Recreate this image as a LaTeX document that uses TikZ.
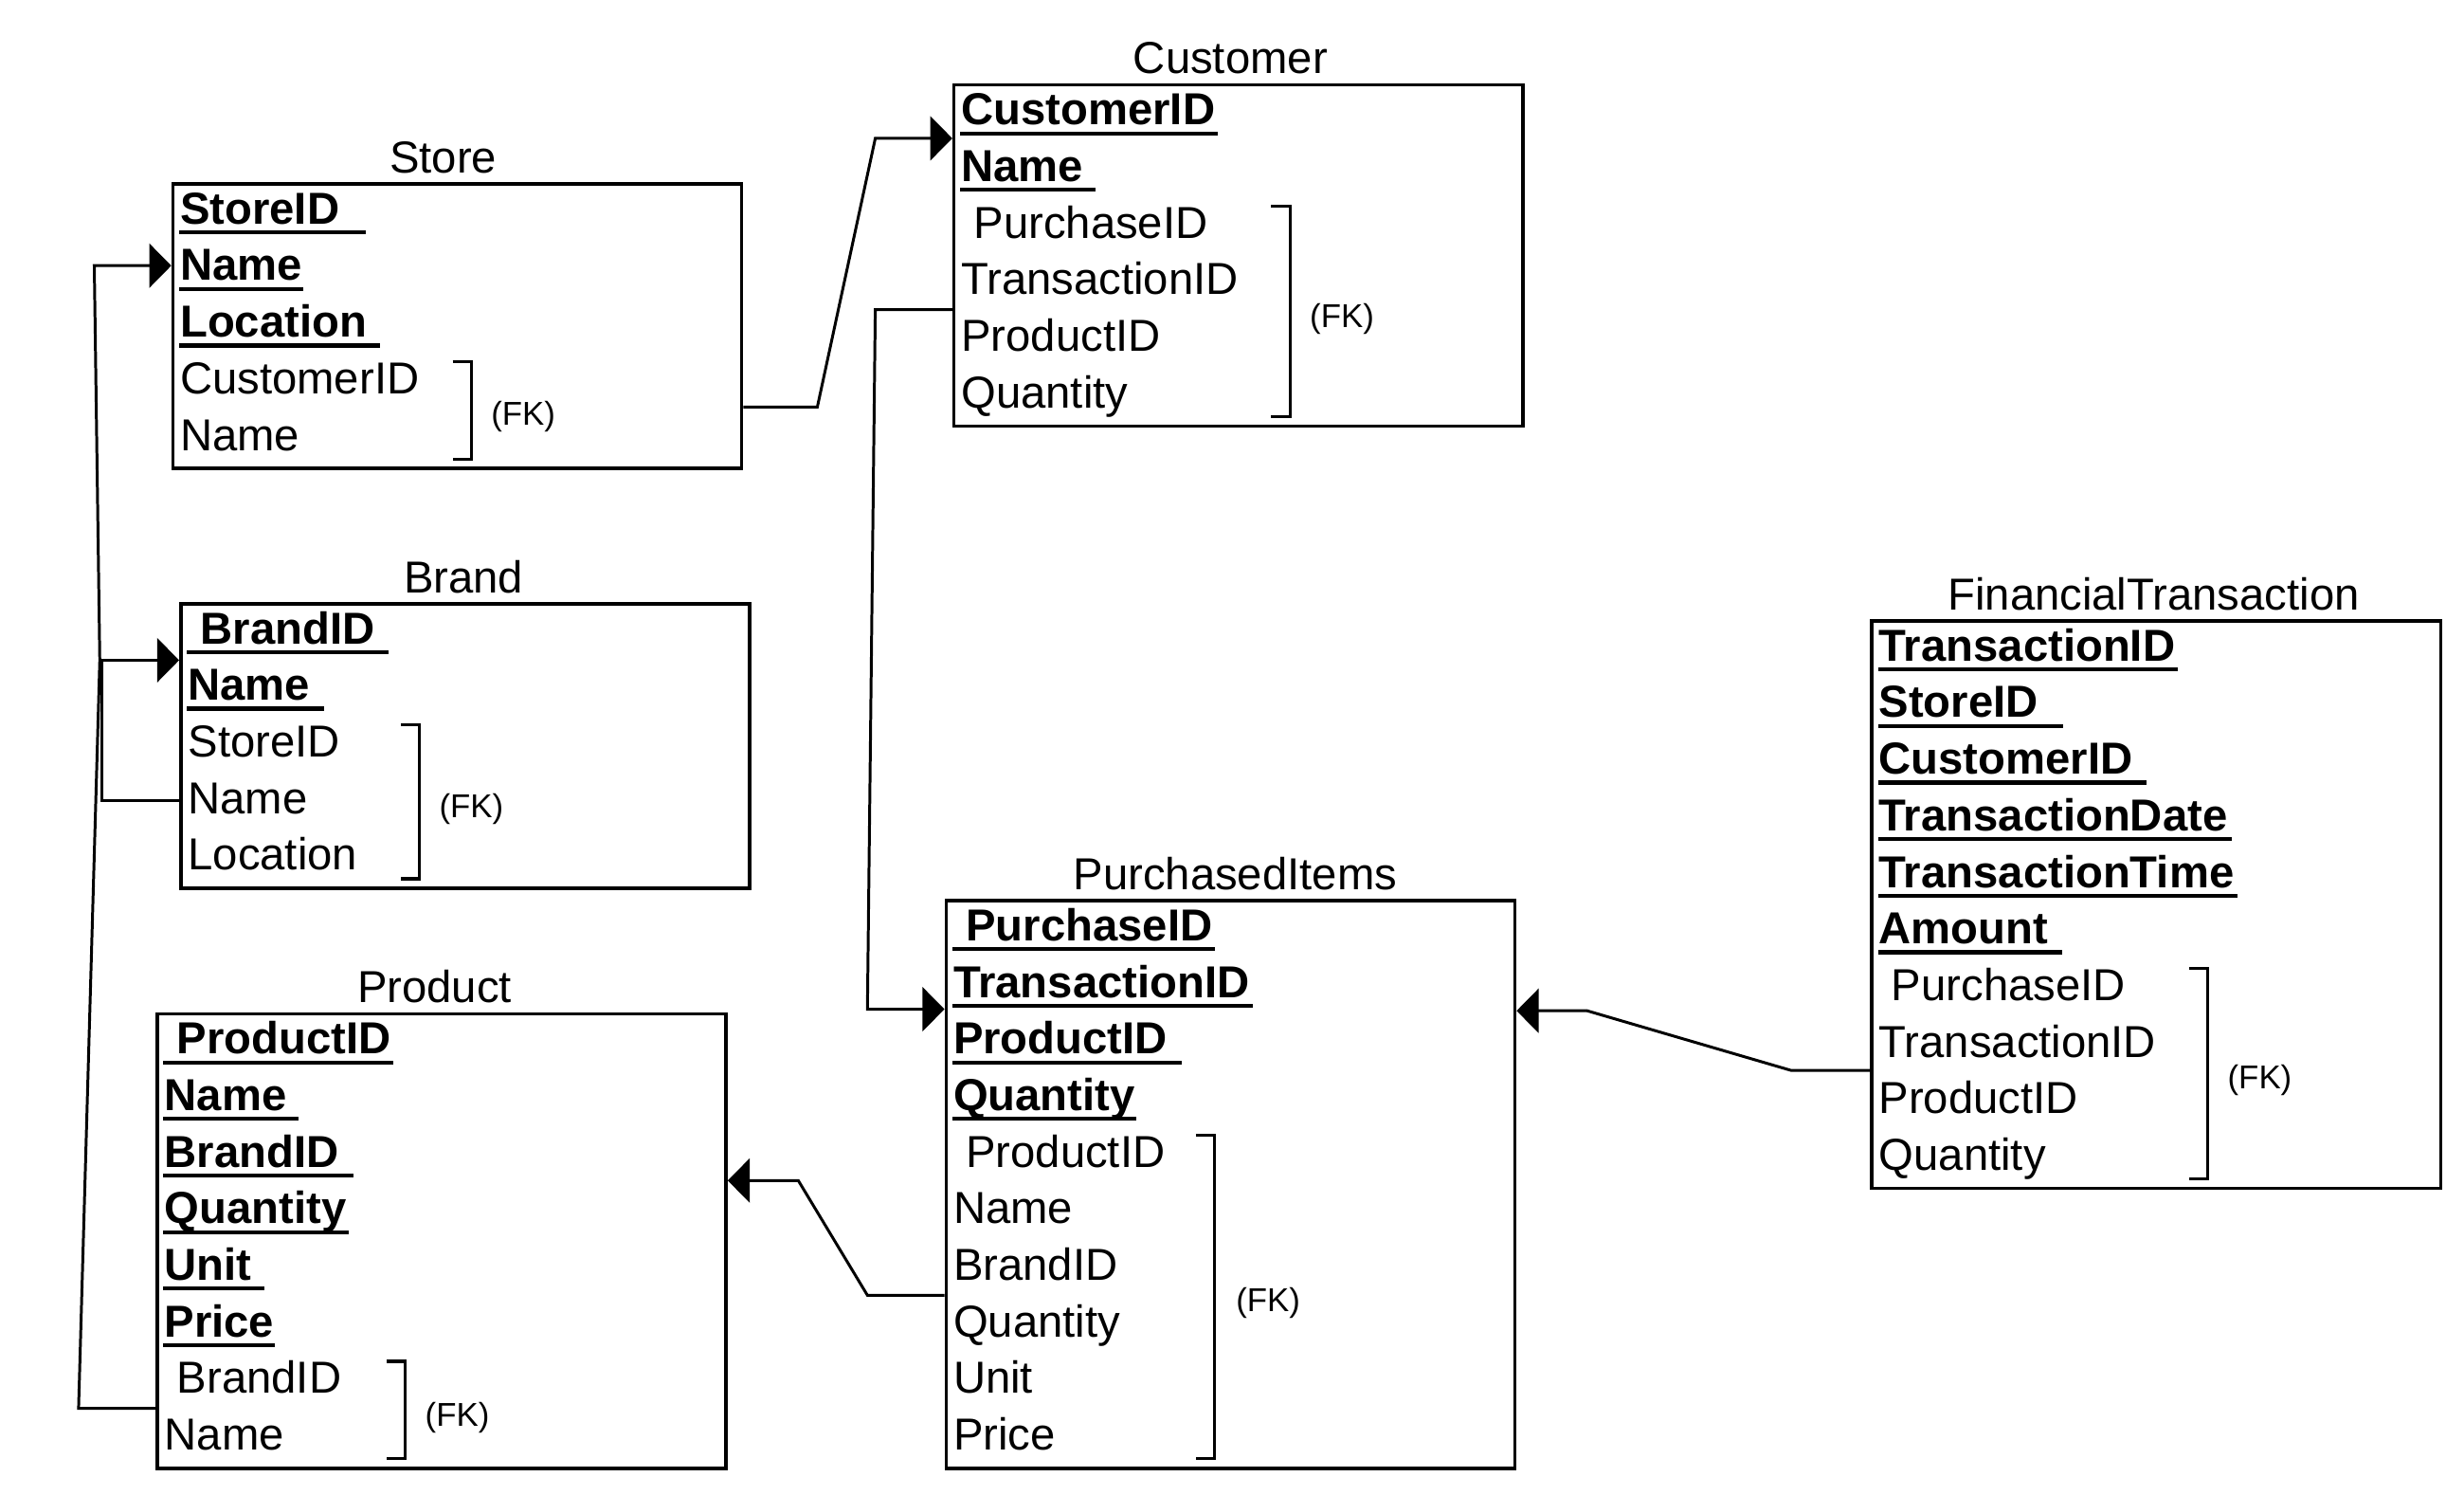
\documentclass[tikz,border=0pt]{standalone}
\usepackage{fontspec}
\setmainfont{Liberation Sans}
\usetikzlibrary{arrows.meta,calc}
\tikzset{
 box/.style={draw, line width=2.1pt, rectangle, minimum width=362pt, inner sep=0pt, anchor=north west},
 ttl/.style={anchor=base, inner sep=0pt, font=\fontsize{28.5}{34}\selectfont},
 fld/.style={anchor=base west, inner sep=0pt, font=\fontsize{28.5}{34}\selectfont},
 key/.style={anchor=base west, inner sep=0pt, font=\fontsize{28.5}{34}\selectfont\bfseries},
 uline/.style={line width=2.5pt},
 brk/.style={line width=1.9pt},
 fk/.style={anchor=center, inner sep=0pt, font=\fontsize{21}{25}\selectfont},
 conn/.style={line width=1.8pt, -{Triangle[length=14pt,width=28pt]}},
}
% name, box left, baseline, text, underline end, indent
\newcommand\keyrow[6]{\node[key] (#1) at ({#2+5.5+#6},{#3+0.5}) {#4};
 \draw[uline] ({#2+5},{#3+5.8}) -- (#5,{#3+5.8});}
% name, box left, baseline, text, indent
\newcommand\fldrow[5]{\node[fld] (#1) at ({#2+5.5+#5},{#3+0.5}) {#4};}
% name, x, top, bottom, label x, label y
\newcommand\fkbr[6]{\draw[brk] ({#2-12},#3) -- (#2,#3) -- (#2,#4) -- ({#2-12},#4);
 \node[fk] (#1) at (#5,{#6+1}) {(FK)};}
\begin{document}
\begin{tikzpicture}[x=1pt,y=-1pt]
\useasboundingbox (0,0) rectangle (1568,950.5);

% ---------- Store ----------
\node[box, minimum height=181pt] (store) at (109,116) {};
\node[ttl] (storeT) at (282,110) {Store};
\keyrow{s1}{109}{142}{StoreID}{233}{0}
\keyrow{s2}{109}{178}{Name}{193}{0}
\keyrow{s3}{109}{214}{Location}{242}{0}
\fldrow{s4}{109}{250}{CustomerID}{0}
\fldrow{s5}{109}{286}{Name}{0}
\fkbr{sfk}{300}{230}{292}{333}{264}

% ---------- Customer ----------
\node[box, minimum height=217pt] (customer) at (606,53) {};
\node[ttl] (customerT) at (783,47) {Customer};
\keyrow{c1}{606}{79}{CustomerID}{775}{0}
\keyrow{c2}{606}{115}{Name}{697}{0}
\fldrow{c3}{606}{151}{PurchaseID}{8}
\fldrow{c4}{606}{187}{TransactionID}{0}
\fldrow{c5}{606}{223}{ProductID}{0}
\fldrow{c6}{606}{259}{Quantity}{0}
\fkbr{cfk}{821}{131}{265}{854}{202}

% ---------- Brand ----------
\node[box, minimum height=181pt] (brand) at (114,383) {};
\node[ttl] (brandT) at (295,377) {Brand};
\keyrow{b1}{114}{409}{BrandID}{247}{8}
\keyrow{b2}{114}{445}{Name}{206}{0}
\fldrow{b3}{114}{481}{StoreID}{0}
\fldrow{b4}{114}{517}{Name}{0}
\fldrow{b5}{114}{553}{Location}{0}
\fkbr{bfk}{267}{461}{559}{300}{514}

% ---------- Product ----------
\node[box, minimum height=289pt] (product) at (99,644) {};
\node[ttl] (productT) at (276.5,638) {Product};
\keyrow{p1}{99}{670}{ProductID}{250}{8}
\keyrow{p2}{99}{706}{Name}{190}{0}
\keyrow{p3}{99}{742}{BrandID}{225}{0}
\keyrow{p4}{99}{778}{Quantity}{222}{0}
\keyrow{p5}{99}{814}{Unit}{168}{0}
\keyrow{p6}{99}{850}{Price}{175}{0}
\fldrow{p7}{99}{886}{BrandID}{8}
\fldrow{p8}{99}{922}{Name}{0}
\fkbr{pfk}{258}{866}{928}{291}{901}

% ---------- PurchasedItems ----------
\node[box, minimum height=361pt] (pi) at (601,572) {};
\node[ttl] (piT) at (786,566) {PurchasedItems};
\keyrow{i1}{601}{598}{PurchaseID}{773}{8}
\keyrow{i2}{601}{634}{TransactionID}{797}{0}
\keyrow{i3}{601}{670}{ProductID}{752}{0}
\keyrow{i4}{601}{706}{Quantity}{723}{0}
\fldrow{i5}{601}{742}{ProductID}{8}
\fldrow{i6}{601}{778}{Name}{0}
\fldrow{i7}{601}{814}{BrandID}{0}
\fldrow{i8}{601}{850}{Quantity}{0}
\fldrow{i9}{601}{886}{Unit}{0}
\fldrow{i10}{601}{922}{Price}{0}
\fkbr{ifk}{773}{722}{928}{807}{828}

% ---------- FinancialTransaction ----------
\node[box, minimum height=361pt] (ft) at (1190,394) {};
\node[ttl] (ftT) at (1370.5,388) {FinancialTransaction};
\keyrow{f1}{1190}{420}{TransactionID}{1386}{0}
\keyrow{f2}{1190}{456}{StoreID}{1313}{0}
\keyrow{f3}{1190}{492}{CustomerID}{1366}{0}
\keyrow{f4}{1190}{528}{TransactionDate}{1420}{0}
\keyrow{f5}{1190}{564}{TransactionTime}{1424}{0}
\keyrow{f6}{1190}{600}{Amount}{1312}{0}
\fldrow{f7}{1190}{636}{PurchaseID}{8}
\fldrow{f8}{1190}{672}{TransactionID}{0}
\fldrow{f9}{1190}{708}{ProductID}{0}
\fldrow{f10}{1190}{744}{Quantity}{0}
\fkbr{ffk}{1405}{616}{750}{1438}{686}

% ---------- connectors ----------
\coordinate (a1s) at ($(store.north east)+(0,143)$);
\coordinate (a1e) at ($(customer.north west)+(0,35)$);
\draw[conn] (a1s) -- ++(47,0) -- (557,88) -- (a1e);

\coordinate (a2s) at ($(customer.north west)+(0,144)$);
\coordinate (a2e) at ($(pi.north west)+(0,70)$);
\draw[conn] (a2s) -- ++(-49,0) -- (552,642) -- (a2e);

\coordinate (a3s) at ($(ft.north west)+(0,287)$);
\coordinate (a3e) at ($(pi.north east)+(0,71)$);
\draw[conn] (a3s) -- ++(-50,0) -- (1010,643) -- (a3e);

\coordinate (a4s) at ($(pi.north west)+(0,252)$);
\coordinate (a4e) at ($(product.north east)+(0,107)$);
\draw[conn] (a4s) -- ++(-49,0) -- (508,751) -- (a4e);

\coordinate (a5s) at ($(product.north west)+(0,252)$);
\coordinate (a5e) at ($(store.north west)+(0,53)$);
\draw[conn] (a5s) -- ++(-49,0) -- (63.5,420) -- (60,169) -- (a5e);

\coordinate (a6s) at ($(brand.north west)+(0,126)$);
\coordinate (a6e) at ($(brand.north west)+(0,37)$);
\draw[conn] (a6s) -- ++(-49,0) -- (65,420) -- (a6e);
\end{tikzpicture}
\end{document}
